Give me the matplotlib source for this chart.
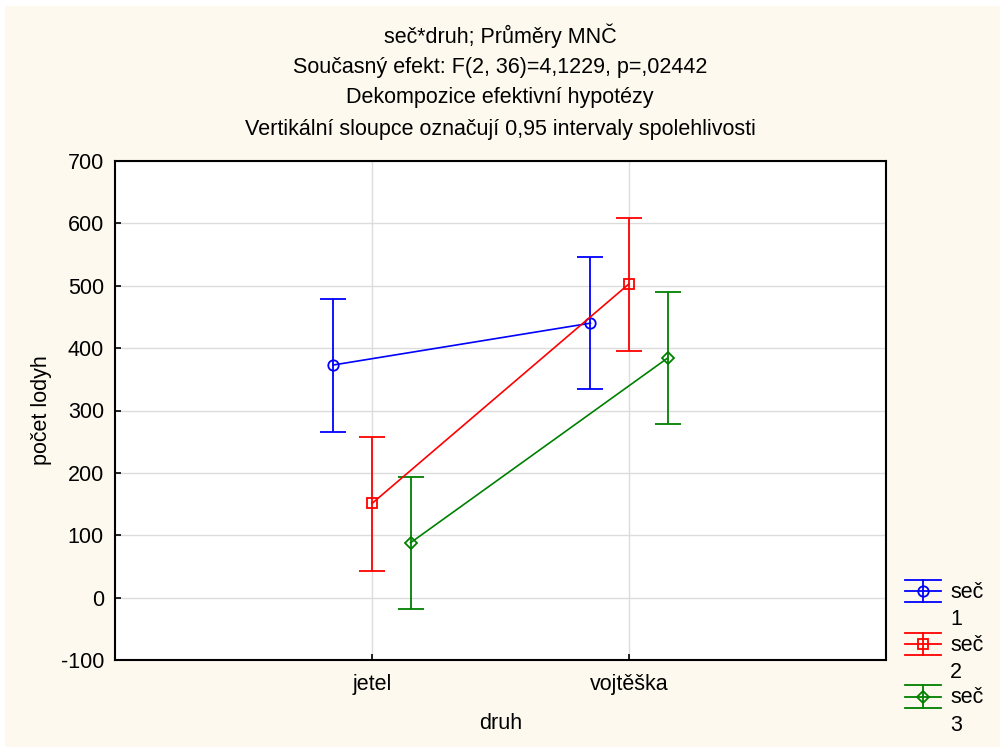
import matplotlib
matplotlib.use("Agg")
import matplotlib.pyplot as plt
from matplotlib.lines import Line2D
from matplotlib.legend_handler import HandlerBase
from matplotlib.patches import Rectangle

plt.rcParams['font.family'] = ['Liberation Sans', 'DejaVu Sans']

# ---- data ----
categories = ['jetel', 'vojtěška']
series_labels = ['seč\n1', 'seč\n2', 'seč\n3']
means_1 = [373, 440]
means_2 = [151, 503]
means_3 = [88, 384]
lower_1 = [266, 334]
lower_2 = [43, 395]
lower_3 = [-18, 278]
upper_1 = [479, 546]
upper_2 = [257, 608]
upper_3 = [194, 490]
y_ticks = [-100, 0, 100, 200, 300, 400, 500, 600, 700]
titles = ['seč*druh; Průměry MNČ',
          'Současný efekt: F(2, 36)=4,1229, p=,02442',
          'Dekompozice efektivní hypotézy',
          'Vertikální sloupce označují 0,95 intervaly spolehlivosti']

colors = ['#0000FF', '#FF0000', '#008000']
markers = ['o', 's', 'D']
msizes = [7.5, 7, 6]
offsets = [-0.15, 0.0, 0.15]
FS = 15.5

cream = '#FDF9EE'
fig = plt.figure(figsize=(10, 7.47), dpi=100, facecolor='white')
fig.patches.append(Rectangle((5/1000, 0), 1, 1 - 6/747, transform=fig.transFigure,
                             facecolor=cream, edgecolor='none', zorder=-10))

ax = fig.add_axes([115/1000, 1 - 660/747, (886 - 115)/1000, (660 - 161)/747])
ax.set_facecolor('white')

xpos = [1, 2]
all_means = [means_1, means_2, means_3]
all_lower = [lower_1, lower_2, lower_3]
all_upper = [upper_1, upper_2, upper_3]

for i in range(3):
    xs = [x + offsets[i] for x in xpos]
    m = all_means[i]
    yerr = [[m[j] - all_lower[i][j] for j in range(2)],
            [all_upper[i][j] - m[j] for j in range(2)]]
    ax.errorbar(xs, m, yerr=yerr, color=colors[i], marker=markers[i],
                markersize=msizes[i], mfc='none', mec=colors[i], mew=1.3,
                lw=1.2, elinewidth=1.3, capsize=9.5, capthick=1.3, zorder=3)

ax.set_xlim(0, 3)
ax.set_ylim(-100, 700)
ax.set_xticks(xpos)
ax.set_xticklabels(categories)
ax.set_yticks(y_ticks)
ax.set_yticklabels([str(v) for v in y_ticks])
ax.grid(True, color='#DCDCDC', lw=1.0, zorder=0)
ax.set_axisbelow(True)
ax.tick_params(direction='in', length=4, width=1.2, labelsize=FS, pad=8,
               top=False, right=False, colors='black')
ax.tick_params(axis='x', pad=10)
for sp in ax.spines.values():
    sp.set_linewidth(1.5)
    sp.set_color('black')

ax.set_xlabel('druh', fontsize=FS, labelpad=13)
ax.set_ylabel('počet lodyh', fontsize=FS, labelpad=6)

for k, t in enumerate(titles):
    fig.text(0.5, 1 - (36 + 31 * k)/747, t, ha='center', va='center', fontsize=FS)


class ErrHandler(HandlerBase):
    def __init__(self, color, marker, ms):
        super().__init__()
        self.color = color
        self.marker = marker
        self.ms = ms

    def create_artists(self, legend, orig_handle, xdescent, ydescent, width, height,
                       fontsize, trans):
        yc = height / 2 - ydescent + 0.72 * fontsize
        dy = 0.52 * fontsize
        arts = []
        for yy in (yc - dy, yc, yc + dy):
            arts.append(Line2D([-xdescent, -xdescent + width], [yy, yy],
                               color=self.color, lw=1.3, transform=trans))
        xm = -xdescent + width / 2
        arts.append(Line2D([xm, xm], [yc - dy, yc + dy], color=self.color, lw=1.3,
                           transform=trans))
        arts.append(Line2D([xm], [yc], marker=self.marker, markersize=self.ms,
                           mfc='none', mec=self.color, mew=1.3, ls='none',
                           transform=trans))
        return arts


proxies = [Rectangle((0, 0), 1, 1) for _ in range(3)]
handler_map = {proxies[i]: ErrHandler(colors[i], markers[i], msizes[i]) for i in range(3)}
leg = fig.legend(proxies, series_labels, handler_map=handler_map,
                 loc='upper left', bbox_to_anchor=(905/1000, 1 - 582/747),
                 frameon=False, fontsize=FS, handlelength=1.65, handletextpad=0.45,
                 labelspacing=0.2, borderpad=0, borderaxespad=0)
for t in leg.get_texts():
    t.set_linespacing(1.4)

fig.savefig('out.png', dpi=100, facecolor=fig.get_facecolor())
